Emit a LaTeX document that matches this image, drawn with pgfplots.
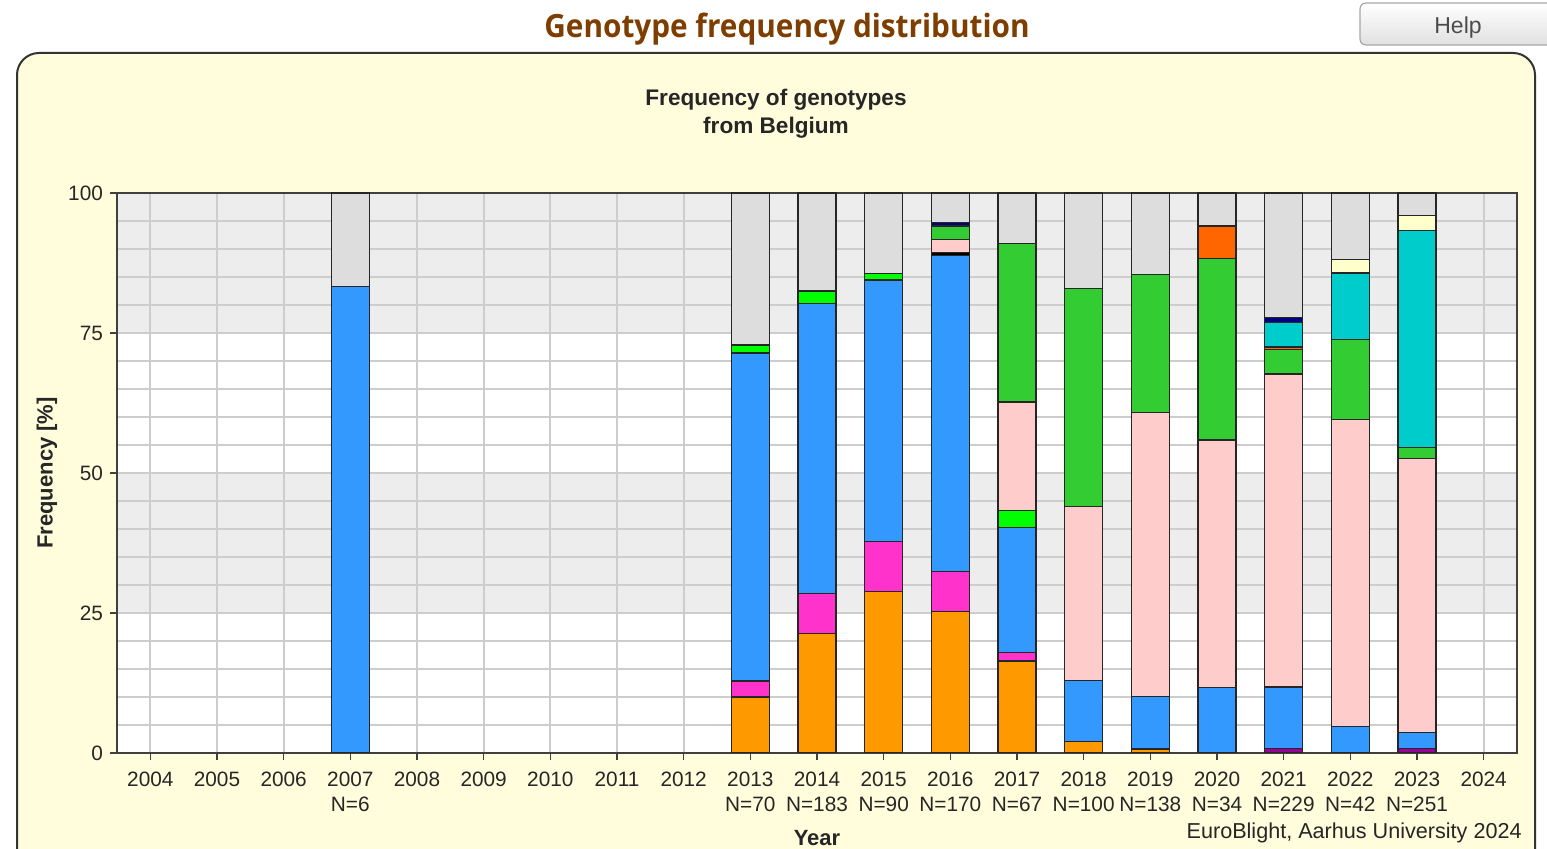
\documentclass[border=0pt]{standalone}
\usepackage{fontspec}
\setmainfont{Liberation Sans}
\newfontfamily\titlefont{Open Sans}[FakeStretch=0.93]
\usepackage{pgfplots}
\usepackage{pgfplotstable}
\pgfplotsset{compat=1.18}
\definecolor{cpu}{RGB}{153,0,153}
\definecolor{cor}{RGB}{255,153,0}
\definecolor{cmg}{RGB}{255,51,204}
\definecolor{cbl}{RGB}{51,153,255}
\definecolor{clg}{RGB}{0,255,0}
\definecolor{cbk}{RGB}{0,0,0}
\definecolor{cpk}{RGB}{255,204,204}
\definecolor{cgr}{RGB}{51,204,51}
\definecolor{cro}{RGB}{255,102,0}
\definecolor{ccy}{RGB}{0,204,204}
\definecolor{cnv}{RGB}{0,0,128}
\definecolor{cye}{RGB}{255,255,204}
\definecolor{cgy}{RGB}{221,221,221}
\definecolor{panel}{RGB}{255,253,220}
\definecolor{band}{RGB}{237,237,237}
\definecolor{gridc}{RGB}{205,205,205}
\definecolor{titlebrown}{RGB}{125,62,0}

\pgfplotstableread{
x  pu   or    mg   bl    lg   bk   pk    gr    ro   cy    nv   ye   gy
3  0    0     0    83.33 0    0    0     0     0    0     0    0    16.67
9  0    10.00 2.86 58.57 1.43 0    0     0     0    0     0    0    27.14
10 0    21.31 7.10 51.91 2.19 0    0     0     0    0     0    0    17.49
11 0    28.89 8.89 46.67 1.11 0    0     0     0    0     0    0    14.44
12 0    25.29 7.06 56.47 0    0.59 2.35  2.35  0    0     0.59 0    5.30
13 0    16.42 1.49 22.39 2.99 0    19.40 28.36 0    0     0    0    8.95
14 0    2.00  0    11.00 0    0    31.00 39.00 0    0     0    0    17.00
15 0    0.72  0    9.42  0    0    50.72 24.64 0    0     0    0    14.50
16 0    0     0    11.76 0    0    44.12 32.35 5.88 0     0    0    5.89
17 0.87 0     0    10.92 0    0    55.90 4.37  0.44 4.37  0.87 0    22.26
18 0    0     0    4.76  0    0    54.76 14.29 0    11.90 0    2.38 11.91
19 0.80 0     0    2.79  0    0    49.00 1.99  0    38.65 0    2.79 3.98
}\gdata

\begin{document}
\begin{tikzpicture}[x=0.5pt,y=0.5pt]
\useasboundingbox (0,0) rectangle (1547,849);
\begin{scope}
\clip (0,0) rectangle (1547,849);
\fill[white] (0,0) rectangle (1547,849);
\draw[draw=black!80, line width=1pt, fill=panel, rounded corners=11pt] (17,796) rectangle (1535,-40);
\shade[top color=white, bottom color=black!12, draw=black!35, line width=0.6pt, rounded corners=3pt] (1360,846) rectangle (1580,804);
\end{scope}
\node[text=black!70, font=\fontsize{11.5}{13}\selectfont] at (1458,821) {Help};
\node[text=titlebrown, font=\titlefont\bfseries\fontsize{16}{19}\selectfont] at (787,820) {Genotype frequency distribution};
\node[text=black!85, font=\bfseries\fontsize{11.3}{13}\selectfont] at (776,749) {Frequency of genotypes};
\node[text=black!85, font=\bfseries\fontsize{11.3}{13}\selectfont] at (776,721) {from Belgium};
\node[text=black!85, font=\bfseries\fontsize{11}{13}\selectfont, rotate=90] at (47,376) {Frequency [\%]};
\node[text=black!85, font=\bfseries\fontsize{11}{13}\selectfont] at (817,11) {Year};
\node[anchor=east, inner sep=0pt, text=black!85, font=\fontsize{10.8}{13}\selectfont] at (1522,16) {EuroBlight, Aarhus University 2024};
% background bands
\fill[band] (117,516) rectangle (1517,656);
\fill[white] (117,376) rectangle (1517,516);
\fill[band] (117,236) rectangle (1517,376);
\fill[white] (117,96) rectangle (1517,236);
\coordinate (plotorigin) at (117,96);
\begin{axis}[
  at={(plotorigin)}, anchor=south west,
  width=700pt, height=280pt, scale only axis,
  xmin=-0.5, xmax=20.5, ymin=0, ymax=100,
  ybar stacked, bar width=19pt,
  xtick={0,...,20},
  xticklabels={{2004},{2005},{2006},{2007\\N=6},{2008},{2009},{2010},{2011},{2012},{2013\\N=70},{2014\\N=183},{2015\\N=90},{2016\\N=170},{2017\\N=67},{2018\\N=100},{2019\\N=138},{2020\\N=34},{2021\\N=229},{2022\\N=42},{2023\\N=251},{2024}},
  x tick label style={align=center, font=\fontsize{10.4}{12.6}\selectfont, text=black!85, yshift=-2.5pt},
  y tick label style={font=\fontsize{10.4}{12.6}\selectfont, text=black!85},
  ytick={0,25,50,75,100},
  minor ytick={5,10,...,95},
  xmajorgrids, ymajorgrids, yminorgrids,
  major grid style={draw=gridc, line width=1pt},
  minor grid style={draw=gridc, line width=1pt},
  tick align=outside,
  major tick length=3.5pt, minor tick length=0pt,
  tick style={draw=black!75, line width=0.6pt},
  xtick pos=bottom, ytick pos=left,
  axis line style={draw=black!75, line width=0.8pt},
  /pgf/number format/assume math mode=true,
  every axis plot/.append style={draw=black!85, line width=0.6pt},
]
\addplot[fill=cpu] table[x=x,y=pu]{\gdata};
\addplot[fill=cor] table[x=x,y=or]{\gdata};
\addplot[fill=cmg] table[x=x,y=mg]{\gdata};
\addplot[fill=cbl] table[x=x,y=bl]{\gdata};
\addplot[fill=clg] table[x=x,y=lg]{\gdata};
\addplot[fill=cbk] table[x=x,y=bk]{\gdata};
\addplot[fill=cpk] table[x=x,y=pk]{\gdata};
\addplot[fill=cgr] table[x=x,y=gr]{\gdata};
\addplot[fill=cro] table[x=x,y=ro]{\gdata};
\addplot[fill=ccy] table[x=x,y=cy]{\gdata};
\addplot[fill=cnv] table[x=x,y=nv]{\gdata};
\addplot[fill=cye] table[x=x,y=ye]{\gdata};
\addplot[fill=cgy] table[x=x,y=gy]{\gdata};
\end{axis}
\end{tikzpicture}
\end{document}
